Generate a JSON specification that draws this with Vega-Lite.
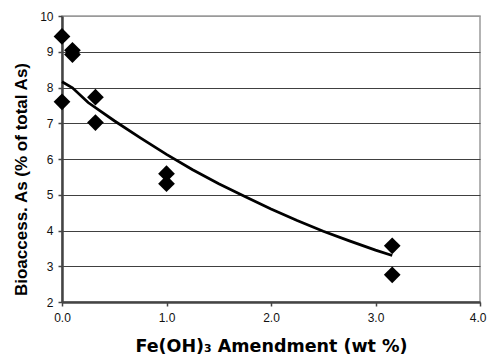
{
  "$schema": "https://vega.github.io/schema/vega-lite/v6.json",
  "autosize": "none",
  "width": 418,
  "height": 286,
  "padding": {"left": 62, "top": 16, "right": 7, "bottom": 58},
  "background": "white",
  "config": {
    "view": {"stroke": "#9a9a9a", "strokeWidth": 1.5},
    "font": "Liberation Sans"
  },
  "datasets": {
    "obs": [
      {"fe": 0.0, "bio": 9.43},
      {"fe": 0.1, "bio": 9.04},
      {"fe": 0.1, "bio": 8.92},
      {"fe": 0.0, "bio": 7.6},
      {"fe": 0.32, "bio": 7.73},
      {"fe": 0.32, "bio": 7.02},
      {"fe": 1.0, "bio": 5.59},
      {"fe": 1.0, "bio": 5.31},
      {"fe": 3.16, "bio": 3.57},
      {"fe": 3.16, "bio": 2.76}
    ],
    "fit": [
      {"fe": 0.0, "bio": 8.16},
      {"fe": 0.1, "bio": 7.99},
      {"fe": 0.25, "bio": 7.58},
      {"fe": 0.5, "bio": 7.07},
      {"fe": 0.75, "bio": 6.59},
      {"fe": 1.0, "bio": 6.13},
      {"fe": 1.25, "bio": 5.7},
      {"fe": 1.5, "bio": 5.31},
      {"fe": 1.75, "bio": 4.95},
      {"fe": 2.0, "bio": 4.6},
      {"fe": 2.25, "bio": 4.28},
      {"fe": 2.5, "bio": 3.98},
      {"fe": 2.75, "bio": 3.71},
      {"fe": 3.0, "bio": 3.45},
      {"fe": 3.16, "bio": 3.3}
    ]
  },
  "encoding": {
    "x": {
      "field": "fe", "type": "quantitative",
      "scale": {"domain": [0, 4], "nice": false, "zero": false},
      "axis": {
        "title": "Fe(OH)₃ Amendment (wt %)",
        "values": [0, 1, 2, 3, 4],
        "format": ".1f",
        "grid": false,
        "domainColor": "#444444", "domainWidth": 2.5,
        "tickColor": "#444444", "tickSize": 4, "tickWidth": 1.5,
        "labelFont": "Liberation Sans", "labelFontSize": 12, "labelColor": "#111111",
        "labelPadding": 6, "labelFlush": false, "labelOverlap": false,
        "labelAlign": {"condition": {"test": "datum.value === 4", "value": "right"}, "value": "center"},
        "labelOffset": {"condition": {"test": "datum.value === 4", "value": 6}, "value": 0},
        "titleFont": "DejaVu Sans", "titleFontSize": 17.5, "titleFontWeight": "bold",
        "titleColor": "#000000", "titlePadding": 14
      }
    },
    "y": {
      "field": "bio", "type": "quantitative",
      "scale": {"domain": [2, 10], "nice": false, "zero": false},
      "axis": {
        "title": "Bioaccess. As (% of total As)",
        "values": [2, 3, 4, 5, 6, 7, 8, 9, 10],
        "format": "d",
        "grid": true,
        "gridColor": {"condition": {"test": "datum.value === 10", "value": "#9a9a9a"}, "value": "#404040"},
        "gridWidth": 1,
        "domainColor": "#444444", "domainWidth": 2.5,
        "tickColor": "#444444", "tickSize": 4, "tickWidth": 1.5,
        "labelFont": "Liberation Sans", "labelFontSize": 12, "labelColor": "#111111",
        "labelPadding": 5, "labelFlush": false,
        "titleFont": "Liberation Sans", "titleFontSize": 17, "titleFontWeight": "bold",
        "titleColor": "#000000", "titlePadding": 9, "titleY": 163
      }
    }
  },
  "layer": [
    {
      "data": {"name": "fit"},
      "mark": {"type": "line", "color": "#000000", "strokeWidth": 2.75, "interpolate": "linear"}
    },
    {
      "data": {"name": "obs"},
      "mark": {"type": "point", "shape": "diamond", "filled": true, "color": "#000000", "opacity": 1, "size": 280}
    }
  ]
}
